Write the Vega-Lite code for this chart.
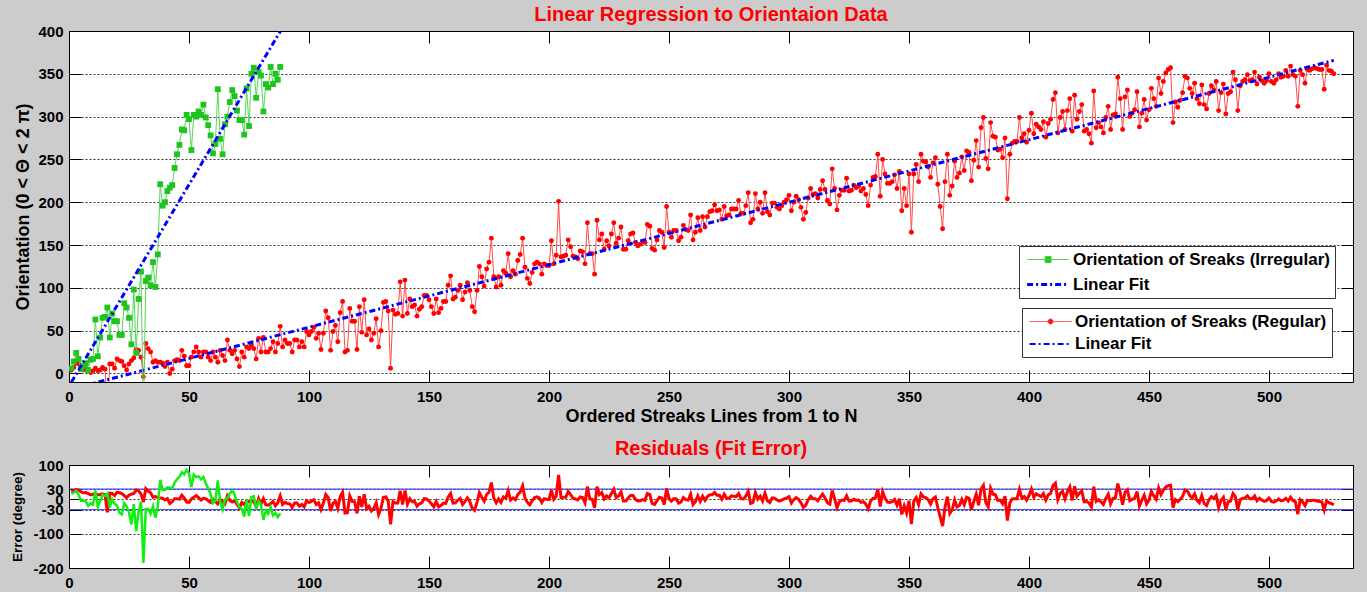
{
"$schema":"https://vega.github.io/schema/vega-lite/v6.json",
"background":"#cccccc",
"autosize":"none",
"padding":{"left":69,"top":31,"right":1298,"bottom":561},
"bounds":"flush",
"spacing":83,
"config":{
"font":"Liberation Sans",
"view":{"fill":"white","stroke":null},
"axis":{"labelFont":"Liberation Sans","labelFontSize":15,"labelFontWeight":"bold","labelColor":"#000","titleFont":"Liberation Sans","titleFontSize":18,"titleFontWeight":"bold","titleColor":"#000","domainColor":"#000","domainWidth":1,"tickColor":"#000","tickWidth":1,"tickSize":-12,"labelFlush":false,"labelOverlap":false,"gridColor":"#333","gridDash":[2,2],"gridWidth":1,"gridOpacity":1},
"title":{"font":"Liberation Sans","fontSize":20,"fontWeight":"bold","color":"#ff0000","anchor":"middle","baseline":"alphabetic","offset":-1}
},
"datasets":{
"lim":[{"e":30},{"e":-30}],
"rfit":[{"i":1,"v":-18.27},{"i":527,"v":365.71}],
"gfit":[{"i":1,"v":-10.29},{"i":88,"v":399.48}],
"green":[{"i":1,"v":6,"e":16},{"i":2,"v":14,"e":20},{"i":3,"v":24,"e":25},{"i":4,"v":17,"e":13},{"i":5,"v":5,"e":-4},{"i":6,"v":9,"e":-4},{"i":7,"v":12,"e":-6},{"i":8,"v":4,"e":-19},{"i":9,"v":16,"e":-11},{"i":10,"v":17,"e":-15},{"i":11,"v":63,"e":26},{"i":12,"v":20,"e":-22},{"i":13,"v":42,"e":-4},{"i":14,"v":65,"e":14},{"i":15,"v":66,"e":10},{"i":16,"v":77,"e":17},{"i":17,"v":42,"e":-23},{"i":18,"v":70,"e":0},{"i":19,"v":61,"e":-13},{"i":20,"v":61,"e":-18},{"i":21,"v":45,"e":-39},{"i":22,"v":45,"e":-44},{"i":23,"v":82,"e":-11},{"i":24,"v":77,"e":-21},{"i":25,"v":65,"e":-38},{"i":26,"v":34,"e":-73},{"i":27,"v":98,"e":-14},{"i":28,"v":24,"e":-93},{"i":29,"v":87,"e":-35},{"i":30,"v":119,"e":-7},{"i":31,"v":-54,"e":-185},{"i":32,"v":108,"e":-28},{"i":33,"v":112,"e":-28},{"i":34,"v":103,"e":-42},{"i":35,"v":130,"e":-20},{"i":36,"v":101,"e":-54},{"i":37,"v":139,"e":-20},{"i":38,"v":221,"e":57},{"i":39,"v":196,"e":27},{"i":40,"v":200,"e":27},{"i":41,"v":213,"e":35},{"i":42,"v":217,"e":34},{"i":43,"v":220,"e":32},{"i":44,"v":240,"e":48},{"i":45,"v":256,"e":59},{"i":46,"v":267,"e":65},{"i":47,"v":285,"e":79},{"i":48,"v":284,"e":73},{"i":49,"v":302,"e":86},{"i":50,"v":297,"e":76},{"i":51,"v":261,"e":36},{"i":52,"v":302,"e":72},{"i":53,"v":300,"e":65},{"i":54,"v":306,"e":67},{"i":55,"v":302,"e":58},{"i":56,"v":314,"e":65},{"i":57,"v":299,"e":46},{"i":58,"v":290,"e":32},{"i":59,"v":278,"e":15},{"i":60,"v":257,"e":-11},{"i":61,"v":268,"e":-4},{"i":62,"v":332,"e":55},{"i":63,"v":274,"e":-8},{"i":64,"v":256,"e":-30},{"i":65,"v":291,"e":0},{"i":66,"v":300,"e":4},{"i":67,"v":317,"e":16},{"i":68,"v":331,"e":26},{"i":69,"v":324,"e":14},{"i":70,"v":307,"e":-8},{"i":71,"v":296,"e":-23},{"i":72,"v":296,"e":-28},{"i":73,"v":279,"e":-50},{"i":74,"v":333,"e":0},{"i":75,"v":289,"e":-49},{"i":76,"v":350,"e":7},{"i":77,"v":357,"e":9},{"i":78,"v":322,"e":-30},{"i":79,"v":352,"e":-5},{"i":80,"v":348,"e":-14},{"i":81,"v":306,"e":-60},{"i":82,"v":338,"e":-33},{"i":83,"v":334,"e":-42},{"i":84,"v":358,"e":-23},{"i":85,"v":338,"e":-47},{"i":86,"v":350,"e":-40},{"i":87,"v":343,"e":-52},{"i":88,"v":358,"e":-41}],
"red":[{"i":1,"v":4,"e":22},{"i":2,"v":7,"e":25},{"i":3,"v":12,"e":29},{"i":4,"v":11,"e":27},{"i":5,"v":7,"e":22},{"i":6,"v":4,"e":19},{"i":7,"v":6,"e":20},{"i":8,"v":4,"e":17},{"i":9,"v":1,"e":13},{"i":10,"v":3,"e":15},
{"i":11,"v":6,"e":17},{"i":12,"v":3,"e":13},{"i":13,"v":4,"e":14},{"i":14,"v":7,"e":16},{"i":15,"v":5,"e":13},{"i":16,"v":-45,"e":-38},{"i":17,"v":11,"e":18},{"i":18,"v":11,"e":17},{"i":19,"v":6,"e":11},{"i":20,"v":17,"e":21},
{"i":21,"v":15,"e":19},{"i":22,"v":14,"e":17},{"i":23,"v":9,"e":11},{"i":24,"v":4,"e":5},{"i":25,"v":11,"e":12},{"i":26,"v":15,"e":15},{"i":27,"v":18,"e":17},{"i":28,"v":28,"e":27},{"i":29,"v":27,"e":25},{"i":30,"v":19,"e":16},
{"i":31,"v":-4,"e":-8},{"i":32,"v":35,"e":31},{"i":33,"v":29,"e":24},{"i":34,"v":25,"e":19},{"i":35,"v":13,"e":6},{"i":36,"v":15,"e":8},{"i":37,"v":13,"e":5},{"i":38,"v":13,"e":4},{"i":39,"v":12,"e":3},{"i":40,"v":8,"e":-2},
{"i":41,"v":13,"e":2},{"i":42,"v":0,"e":-12},{"i":43,"v":5,"e":-7},{"i":44,"v":15,"e":2},{"i":45,"v":16,"e":2},{"i":46,"v":15,"e":0},{"i":47,"v":27,"e":12},{"i":48,"v":20,"e":4},{"i":49,"v":9,"e":-8},{"i":50,"v":9,"e":-9},
{"i":51,"v":19,"e":1},{"i":52,"v":25,"e":6},{"i":53,"v":31,"e":11},{"i":54,"v":25,"e":5},{"i":55,"v":19,"e":-2},{"i":56,"v":25,"e":3},{"i":57,"v":25,"e":2},{"i":58,"v":19,"e":-4},{"i":59,"v":15,"e":-9},{"i":60,"v":25,"e":0},
{"i":61,"v":19,"e":-7},{"i":62,"v":13,"e":-13},{"i":63,"v":27,"e":0},{"i":64,"v":21,"e":-7},{"i":65,"v":15,"e":-13},{"i":66,"v":39,"e":10},{"i":67,"v":27,"e":-3},{"i":68,"v":23,"e":-8},{"i":69,"v":27,"e":-4},{"i":70,"v":17,"e":-15},
{"i":71,"v":8,"e":-25},{"i":72,"v":25,"e":-9},{"i":73,"v":19,"e":-15},{"i":74,"v":31,"e":-4},{"i":75,"v":29,"e":-7},{"i":76,"v":33,"e":-3},{"i":77,"v":29,"e":-8},{"i":78,"v":17,"e":-21},{"i":79,"v":41,"e":2},{"i":80,"v":25,"e":-14},
{"i":81,"v":42,"e":2},{"i":82,"v":25,"e":-16},{"i":83,"v":25,"e":-17},{"i":84,"v":29,"e":-13},{"i":85,"v":37,"e":-6},{"i":86,"v":25,"e":-19},{"i":87,"v":35,"e":-10},{"i":88,"v":55,"e":10},{"i":89,"v":31,"e":-15},{"i":90,"v":39,"e":-8},
{"i":91,"v":35,"e":-12},{"i":92,"v":35,"e":-13},{"i":93,"v":25,"e":-24},{"i":94,"v":39,"e":-11},{"i":95,"v":39,"e":-11},{"i":96,"v":31,"e":-20},{"i":97,"v":37,"e":-15},{"i":98,"v":31,"e":-22},{"i":99,"v":49,"e":-4},{"i":100,"v":45,"e":-9},
{"i":101,"v":49,"e":-6},{"i":102,"v":54,"e":-1},{"i":103,"v":41,"e":-15},{"i":104,"v":47,"e":-10},{"i":105,"v":28,"e":-30},{"i":106,"v":47,"e":-11},{"i":107,"v":73,"e":14},{"i":108,"v":65,"e":5},{"i":109,"v":27,"e":-34},{"i":110,"v":49,"e":-12},
{"i":111,"v":56,"e":-6},{"i":112,"v":37,"e":-26},{"i":113,"v":71,"e":8},{"i":114,"v":84,"e":20},{"i":115,"v":25,"e":-40},{"i":116,"v":27,"e":-39},{"i":117,"v":76,"e":10},{"i":118,"v":61,"e":-6},{"i":119,"v":61,"e":-7},{"i":120,"v":28,"e":-41},
{"i":121,"v":78,"e":9},{"i":122,"v":48,"e":-22},{"i":123,"v":86,"e":15},{"i":124,"v":45,"e":-27},{"i":125,"v":52,"e":-20},{"i":126,"v":39,"e":-34},{"i":127,"v":47,"e":-27},{"i":128,"v":64,"e":-10},{"i":129,"v":31,"e":-44},{"i":130,"v":50,"e":-26},
{"i":131,"v":83,"e":6},{"i":132,"v":84,"e":7},{"i":133,"v":73,"e":-5},{"i":134,"v":6,"e":-73},{"i":135,"v":74,"e":-6},{"i":136,"v":69,"e":-11},{"i":137,"v":70,"e":-11},{"i":138,"v":107,"e":25},{"i":139,"v":67,"e":-15},{"i":140,"v":109,"e":26},
{"i":141,"v":70,"e":-14},{"i":142,"v":87,"e":2},{"i":143,"v":78,"e":-7},{"i":144,"v":80,"e":-6},{"i":145,"v":67,"e":-20},{"i":146,"v":75,"e":-13},{"i":147,"v":78,"e":-10},{"i":148,"v":91,"e":2},{"i":149,"v":91,"e":1},{"i":150,"v":86,"e":-5},
{"i":151,"v":78,"e":-13},{"i":152,"v":70,"e":-22},{"i":153,"v":87,"e":-6},{"i":154,"v":71,"e":-22},{"i":155,"v":76,"e":-18},{"i":156,"v":84,"e":-11},{"i":157,"v":84,"e":-12},{"i":158,"v":103,"e":7},{"i":159,"v":114,"e":17},{"i":160,"v":87,"e":-11},
{"i":161,"v":89,"e":-10},{"i":162,"v":97,"e":-2},{"i":163,"v":103,"e":3},{"i":164,"v":86,"e":-15},{"i":165,"v":95,"e":-6},{"i":166,"v":106,"e":4},{"i":167,"v":97,"e":-6},{"i":168,"v":78,"e":-26},{"i":169,"v":72,"e":-32},{"i":170,"v":97,"e":-8},
{"i":171,"v":125,"e":19},{"i":172,"v":113,"e":6},{"i":173,"v":102,"e":-5},{"i":174,"v":122,"e":14},{"i":175,"v":130,"e":21},{"i":176,"v":158,"e":49},{"i":177,"v":113,"e":3},{"i":178,"v":101,"e":-10},{"i":179,"v":113,"e":1},{"i":180,"v":103,"e":-9},
{"i":181,"v":120,"e":7},{"i":182,"v":117,"e":3},{"i":183,"v":140,"e":25},{"i":184,"v":113,"e":-2},{"i":185,"v":120,"e":4},{"i":186,"v":116,"e":-1},{"i":187,"v":132,"e":14},{"i":188,"v":139,"e":21},{"i":189,"v":158,"e":39},{"i":190,"v":124,"e":4},
{"i":191,"v":111,"e":-9},{"i":192,"v":105,"e":-16},{"i":193,"v":118,"e":-4},{"i":194,"v":128,"e":5},{"i":195,"v":130,"e":7},{"i":196,"v":128,"e":4},{"i":197,"v":116,"e":-9},{"i":198,"v":128,"e":2},{"i":199,"v":126,"e":0},{"i":200,"v":126,"e":-1},
{"i":201,"v":155,"e":27},{"i":202,"v":128,"e":0},{"i":203,"v":138,"e":9},{"i":204,"v":201,"e":71},{"i":205,"v":136,"e":5},{"i":206,"v":137,"e":6},{"i":207,"v":138,"e":6},{"i":208,"v":156,"e":23},{"i":209,"v":148,"e":14},{"i":210,"v":137,"e":3},
{"i":211,"v":136,"e":1},{"i":212,"v":134,"e":-2},{"i":213,"v":143,"e":7},{"i":214,"v":142,"e":5},{"i":215,"v":128,"e":-10},{"i":216,"v":176,"e":37},{"i":217,"v":140,"e":1},{"i":218,"v":140,"e":0},{"i":219,"v":116,"e":-25},{"i":220,"v":179,"e":37},
{"i":221,"v":156,"e":14},{"i":222,"v":163,"e":20},{"i":223,"v":145,"e":1},{"i":224,"v":155,"e":10},{"i":225,"v":149,"e":4},{"i":226,"v":163,"e":17},{"i":227,"v":176,"e":29},{"i":228,"v":152,"e":5},{"i":229,"v":158,"e":10},{"i":230,"v":171,"e":22},
{"i":231,"v":145,"e":-5},{"i":232,"v":145,"e":-5},{"i":233,"v":155,"e":4},{"i":234,"v":163,"e":11},{"i":235,"v":164,"e":11},{"i":236,"v":153,"e":0},{"i":237,"v":149,"e":-5},{"i":238,"v":151,"e":-4},{"i":239,"v":154,"e":-1},{"i":240,"v":153,"e":-3},
{"i":241,"v":174,"e":17},{"i":242,"v":172,"e":14},{"i":243,"v":146,"e":-12},{"i":244,"v":144,"e":-15},{"i":245,"v":156,"e":-4},{"i":246,"v":167,"e":6},{"i":247,"v":165,"e":4},{"i":248,"v":147,"e":-15},{"i":249,"v":195,"e":32},{"i":250,"v":165,"e":2},
{"i":251,"v":159,"e":-5},{"i":252,"v":167,"e":2},{"i":253,"v":167,"e":1},{"i":254,"v":155,"e":-11},{"i":255,"v":159,"e":-8},{"i":256,"v":173,"e":5},{"i":257,"v":168,"e":-1},{"i":258,"v":167,"e":-2},{"i":259,"v":185,"e":15},{"i":260,"v":156,"e":-15},
{"i":261,"v":165,"e":-7},{"i":262,"v":182,"e":10},{"i":263,"v":167,"e":-6},{"i":264,"v":183,"e":9},{"i":265,"v":171,"e":-3},{"i":266,"v":183,"e":8},{"i":267,"v":189,"e":13},{"i":268,"v":190,"e":13},{"i":269,"v":197,"e":20},{"i":270,"v":190,"e":12},
{"i":271,"v":191,"e":12},{"i":272,"v":180,"e":0},{"i":273,"v":195,"e":15},{"i":274,"v":184,"e":3},{"i":275,"v":185,"e":3},{"i":276,"v":192,"e":10},{"i":277,"v":192,"e":9},{"i":278,"v":192,"e":8},{"i":279,"v":202,"e":17},{"i":280,"v":187,"e":2},
{"i":281,"v":187,"e":1},{"i":282,"v":196,"e":9},{"i":283,"v":211,"e":23},{"i":284,"v":176,"e":-12},{"i":285,"v":180,"e":-9},{"i":286,"v":210,"e":20},{"i":287,"v":192,"e":1},{"i":288,"v":200,"e":9},{"i":289,"v":187,"e":-5},{"i":290,"v":211,"e":18},
{"i":291,"v":189,"e":-4},{"i":292,"v":185,"e":-9},{"i":293,"v":199,"e":4},{"i":294,"v":199,"e":3},{"i":295,"v":194,"e":-2},{"i":296,"v":192,"e":-5},{"i":297,"v":196,"e":-2},{"i":298,"v":200,"e":1},{"i":299,"v":203,"e":4},{"i":300,"v":208,"e":8},
{"i":301,"v":190,"e":-11},{"i":302,"v":200,"e":-1},{"i":303,"v":207,"e":5},{"i":304,"v":203,"e":0},{"i":305,"v":194,"e":-10},{"i":306,"v":180,"e":-24},{"i":307,"v":188,"e":-17},{"i":308,"v":205,"e":-1},{"i":309,"v":216,"e":9},{"i":310,"v":209,"e":2},
{"i":311,"v":210,"e":2},{"i":312,"v":205,"e":-4},{"i":313,"v":215,"e":6},{"i":314,"v":225,"e":15},{"i":315,"v":215,"e":4},{"i":316,"v":202,"e":-10},{"i":317,"v":198,"e":-14},{"i":318,"v":239,"e":26},{"i":319,"v":216,"e":2},{"i":320,"v":191,"e":-24},
{"i":321,"v":208,"e":-7},{"i":322,"v":214,"e":-2},{"i":323,"v":214,"e":-3},{"i":324,"v":228,"e":10},{"i":325,"v":213,"e":-5},{"i":326,"v":214,"e":-5},{"i":327,"v":220,"e":0},{"i":328,"v":217,"e":-3},{"i":329,"v":219,"e":-2},{"i":330,"v":213,"e":-9},
{"i":331,"v":216,"e":-7},{"i":332,"v":209,"e":-14},{"i":333,"v":196,"e":-28},{"i":334,"v":220,"e":-5},{"i":335,"v":229,"e":3},{"i":336,"v":230,"e":4},{"i":337,"v":256,"e":29},{"i":338,"v":207,"e":-21},{"i":339,"v":250,"e":22},{"i":340,"v":233,"e":4},
{"i":341,"v":222,"e":-8},{"i":342,"v":222,"e":-9},{"i":343,"v":224,"e":-7},{"i":344,"v":232,"e":0},{"i":345,"v":216,"e":-17},{"i":346,"v":236,"e":2},{"i":347,"v":190,"e":-44},{"i":348,"v":216,"e":-19},{"i":349,"v":196,"e":-40},{"i":350,"v":233,"e":-4},
{"i":351,"v":165,"e":-72},{"i":352,"v":233,"e":-5},{"i":353,"v":244,"e":5},{"i":354,"v":224,"e":-15},{"i":355,"v":256,"e":16},{"i":356,"v":248,"e":7},{"i":357,"v":247,"e":5},{"i":358,"v":241,"e":-1},{"i":359,"v":229,"e":-14},{"i":360,"v":246,"e":2},
{"i":361,"v":252,"e":7},{"i":362,"v":221,"e":-24},{"i":363,"v":195,"e":-51},{"i":364,"v":169,"e":-78},{"i":365,"v":224,"e":-23},{"i":366,"v":256,"e":8},{"i":367,"v":208,"e":-41},{"i":368,"v":219,"e":-31},{"i":369,"v":248,"e":-2},{"i":370,"v":229,"e":-22},
{"i":371,"v":234,"e":-18},{"i":372,"v":253,"e":0},{"i":373,"v":237,"e":-16},{"i":374,"v":260,"e":6},{"i":375,"v":258,"e":3},{"i":376,"v":225,"e":-30},{"i":377,"v":249,"e":-7},{"i":378,"v":272,"e":15},{"i":379,"v":241,"e":-17},{"i":380,"v":287,"e":29},
{"i":381,"v":299,"e":40},{"i":382,"v":251,"e":-9},{"i":383,"v":239,"e":-22},{"i":384,"v":293,"e":32},{"i":385,"v":277,"e":15},{"i":386,"v":276,"e":13},{"i":387,"v":261,"e":-3},{"i":388,"v":262,"e":-2},{"i":389,"v":252,"e":-13},{"i":390,"v":275,"e":9},
{"i":391,"v":204,"e":-62},{"i":392,"v":256,"e":-11},{"i":393,"v":269,"e":1},{"i":394,"v":271,"e":2},{"i":395,"v":271,"e":2},{"i":396,"v":299,"e":29},{"i":397,"v":275,"e":4},{"i":398,"v":280,"e":8},{"i":399,"v":270,"e":-2},{"i":400,"v":284,"e":11},
{"i":401,"v":304,"e":30},{"i":402,"v":280,"e":6},{"i":403,"v":291,"e":16},{"i":404,"v":288,"e":12},{"i":405,"v":285,"e":8},{"i":406,"v":294,"e":17},{"i":407,"v":276,"e":-2},{"i":408,"v":292,"e":13},{"i":409,"v":297,"e":17},{"i":410,"v":320,"e":40},
{"i":411,"v":328,"e":47},{"i":412,"v":281,"e":-1},{"i":413,"v":299,"e":17},{"i":414,"v":306,"e":23},{"i":415,"v":285,"e":1},{"i":416,"v":307,"e":22},{"i":417,"v":321,"e":36},{"i":418,"v":283,"e":-3},{"i":419,"v":325,"e":38},{"i":420,"v":297,"e":9},
{"i":421,"v":306,"e":18},{"i":422,"v":314,"e":25},{"i":423,"v":283,"e":-7},{"i":424,"v":285,"e":-6},{"i":425,"v":280,"e":-11},{"i":426,"v":269,"e":-23},{"i":427,"v":330,"e":37},{"i":428,"v":287,"e":-6},{"i":429,"v":293,"e":-1},{"i":430,"v":288,"e":-7},
{"i":431,"v":281,"e":-15},{"i":432,"v":299,"e":3},{"i":433,"v":312,"e":15},{"i":434,"v":285,"e":-13},{"i":435,"v":302,"e":3},{"i":436,"v":303,"e":4},{"i":437,"v":346,"e":46},{"i":438,"v":321,"e":20},{"i":439,"v":285,"e":-16},{"i":440,"v":323,"e":21},
{"i":441,"v":331,"e":28},{"i":442,"v":300,"e":-4},{"i":443,"v":304,"e":0},{"i":444,"v":308,"e":3},{"i":445,"v":329,"e":23},{"i":446,"v":288,"e":-19},{"i":447,"v":304,"e":-3},{"i":448,"v":320,"e":12},{"i":449,"v":296,"e":-13},{"i":450,"v":308,"e":-2},
{"i":451,"v":333,"e":23},{"i":452,"v":321,"e":10},{"i":453,"v":312,"e":0},{"i":454,"v":345,"e":33},{"i":455,"v":327,"e":14},{"i":456,"v":341,"e":27},{"i":457,"v":351,"e":36},{"i":458,"v":355,"e":40},{"i":459,"v":357,"e":41},{"i":460,"v":293,"e":-24},
{"i":461,"v":317,"e":-1},{"i":462,"v":311,"e":-7},{"i":463,"v":319,"e":0},{"i":464,"v":328,"e":8},{"i":465,"v":347,"e":27},{"i":466,"v":345,"e":24},{"i":467,"v":333,"e":11},{"i":468,"v":327,"e":4},{"i":469,"v":339,"e":16},{"i":470,"v":321,"e":-3},
{"i":471,"v":315,"e":-10},{"i":472,"v":337,"e":11},{"i":473,"v":314,"e":-12},{"i":474,"v":309,"e":-18},{"i":475,"v":327,"e":-1},{"i":476,"v":336,"e":8},{"i":477,"v":331,"e":2},{"i":478,"v":341,"e":11},{"i":479,"v":307,"e":-24},{"i":480,"v":328,"e":-3},
{"i":481,"v":338,"e":6},{"i":482,"v":303,"e":-30},{"i":483,"v":327,"e":-7},{"i":484,"v":329,"e":-5},{"i":485,"v":352,"e":17},{"i":486,"v":343,"e":7},{"i":487,"v":307,"e":-30},{"i":488,"v":336,"e":-1},{"i":489,"v":341,"e":3},{"i":490,"v":343,"e":4},
{"i":491,"v":349,"e":10},{"i":492,"v":342,"e":2},{"i":493,"v":343,"e":2},{"i":494,"v":352,"e":10},{"i":495,"v":338,"e":-4},{"i":496,"v":346,"e":3},{"i":497,"v":342,"e":-2},{"i":498,"v":339,"e":-6},{"i":499,"v":342,"e":-3},{"i":500,"v":350,"e":4},
{"i":501,"v":341,"e":-6},{"i":502,"v":339,"e":-8},{"i":503,"v":343,"e":-5},{"i":504,"v":350,"e":1},{"i":505,"v":346,"e":-4},{"i":506,"v":347,"e":-3},{"i":507,"v":354,"e":3},{"i":508,"v":347,"e":-5},{"i":509,"v":359,"e":6},{"i":510,"v":349,"e":-4},
{"i":511,"v":347,"e":-7},{"i":512,"v":312,"e":-43},{"i":513,"v":354,"e":-1},{"i":514,"v":349,"e":-7},{"i":515,"v":339,"e":-18},{"i":516,"v":355,"e":-3},{"i":517,"v":354,"e":-4},{"i":518,"v":356,"e":-3},{"i":519,"v":357,"e":-3},{"i":520,"v":356,"e":-5},
{"i":521,"v":355,"e":-6},{"i":522,"v":355,"e":-7},{"i":523,"v":332,"e":-31},{"i":524,"v":360,"e":-4},{"i":525,"v":354,"e":-10},{"i":526,"v":353,"e":-12},{"i":527,"v":350,"e":-16}]
},
"vconcat":[
{
"width":1284,"height":351,
"title":{"text":"Linear Regression to Orientaion Data"},
"layer":[
{
"encoding":{
"x":{"field":"i","type":"quantitative","scale":{"domain":[0,535],"nice":false,"zero":false},"axis":{"orient":"top","values":[0,50,100,150,200,250,300,350,400,450,500],"labels":false,"title":null,"grid":false}},
"y":{"field":"v","type":"quantitative","scale":{"domain":[-10,400],"nice":false,"zero":false},"axis":{"orient":"right","values":[0,50,100,150,200,250,300,350,400],"labels":false,"title":null,"grid":false}}
},
"layer":[
{"data":{"name":"red"},"mark":{"type":"line","color":"#ff4a4a","strokeWidth":1,"clip":true}},
{"data":{"name":"red"},"mark":{"type":"point","filled":true,"shape":"circle","size":24,"opacity":1,"color":"#ff0000","clip":true}},
{"data":{"name":"rfit"},"mark":{"type":"line","color":"#0000ff","strokeWidth":3,"strokeDash":[6,3,2,3],"clip":true}},
{"data":{"name":"rfit"},"mark":{"type":"point","filled":true,"opacity":0,"clip":true},
"encoding":{
"color":{"datum":"Linear Fit","type":"nominal","scale":{"domain":["Orientation of Sreaks (Regular)","Linear Fit"],"range":["#ff0000","#0000ff"]},
"legend":{"orient":"none","legendX":953,"legendY":277,"title":null,"fillColor":"white","strokeColor":"#333","padding":5,"rowPadding":5,"symbolSize":256,"symbolOpacity":1,"labelOffset":30,"labelFont":"Liberation Sans","labelFontSize":17,"labelFontWeight":"bold","labelColor":"#000","labelLimit":500}},
"stroke":{"datum":"Linear Fit","type":"nominal","scale":{"domain":["Orientation of Sreaks (Regular)","Linear Fit"],"range":["#ff3a3a","#0000ff"]}},
"shape":{"datum":"Linear Fit","type":"nominal","scale":{"domain":["Orientation of Sreaks (Regular)","Linear Fit"],"range":["M-0.8,0H4.45M1.5125,0A0.3125,0.3125,0,1,0,2.1375,0A0.3125,0.3125,0,1,0,1.5125,0Z","M-0.8,0H4.45"]}},
"strokeDash":{"datum":"Linear Fit","type":"nominal","scale":{"domain":["Orientation of Sreaks (Regular)","Linear Fit"],"range":[[1,0],[6,3,2,3]]}},
"strokeWidth":{"datum":"Linear Fit","type":"nominal","scale":{"domain":["Orientation of Sreaks (Regular)","Linear Fit"],"range":[1,2]}}
}}
]
},
{
"encoding":{
"x":{"field":"i","type":"quantitative","scale":{"domain":[0,535],"nice":false,"zero":false},"axis":{"orient":"bottom","values":[0,50,100,150,200,250,300,350,400,450,500],"title":"Ordered Streaks Lines from 1 to N","labelPadding":19,"titlePadding":3,"grid":false}},
"y":{"field":"v","type":"quantitative","scale":{"domain":[-10,400],"nice":false,"zero":false},"axis":{"orient":"left","values":[0,50,100,150,200,250,300,350,400],"title":"Orientation (0 < Θ < 2 π)","labelPadding":18,"titlePadding":5,"grid":true}}
},
"layer":[
{"data":{"name":"green"},"mark":{"type":"line","color":"#55d855","strokeWidth":1,"clip":true}},
{"data":{"name":"green"},"mark":{"type":"point","filled":true,"shape":"square","size":34,"opacity":1,"color":"#1fc41f","clip":true}},
{"data":{"name":"gfit"},"mark":{"type":"line","color":"#0000ff","strokeWidth":3,"strokeDash":[6,3,2,3],"clip":true}},
{"data":{"name":"gfit"},"mark":{"type":"point","filled":true,"opacity":0,"clip":true},
"encoding":{
"color":{"datum":"Linear Fit","type":"nominal","scale":{"domain":["Orientation of Sreaks (Irregular)","Linear Fit"],"range":["#1fc41f","#0000ff"]},
"legend":{"orient":"none","legendX":950,"legendY":215,"title":null,"fillColor":"white","strokeColor":"#333","padding":5,"rowPadding":7,"symbolSize":256,"symbolOpacity":1,"labelOffset":30,"labelFont":"Liberation Sans","labelFontSize":17,"labelFontWeight":"bold","labelColor":"#000","labelLimit":500}},
"stroke":{"datum":"Linear Fit","type":"nominal","scale":{"domain":["Orientation of Sreaks (Irregular)","Linear Fit"],"range":["#44d444","#0000ff"]}},
"shape":{"datum":"Linear Fit","type":"nominal","scale":{"domain":["Orientation of Sreaks (Irregular)","Linear Fit"],"range":["M-0.8,0H4.45M1.45,-0.375H2.2V0.375H1.45Z","M-0.8,0H4.45"]}},
"strokeDash":{"datum":"Linear Fit","type":"nominal","scale":{"domain":["Orientation of Sreaks (Irregular)","Linear Fit"],"range":[[1,0],[6,3,2,3]]}},
"strokeWidth":{"datum":"Linear Fit","type":"nominal","scale":{"domain":["Orientation of Sreaks (Irregular)","Linear Fit"],"range":[1,3]}}
}}
]
}
],
"resolve":{"scale":{"color":"independent","stroke":"independent","shape":"independent","strokeDash":"independent","strokeWidth":"independent"},"axis":{"x":"independent","y":"independent"},"legend":{"color":"independent","stroke":"independent","shape":"independent","strokeDash":"independent","strokeWidth":"independent"}}
},
{
"width":1284,"height":103,
"title":{"text":"Residuals (Fit Error)"},
"layer":[
{
"encoding":{
"y":{"field":"e","type":"quantitative","scale":{"domain":[-200,100],"nice":false,"zero":false},"axis":{"orient":"left","values":[-200,-100,-30,0,30,100],"title":"Error (degree)","titleFontSize":13.5,"labelPadding":18,"titlePadding":8,"grid":true,"labelExpr":"replace(datum.label, '\u2212', '-')"}}
},
"layer":[
{"data":{"name":"lim"},"mark":{"type":"rule","color":"#3030ff","strokeWidth":1}},
{"data":{"name":"red"},"mark":{"type":"line","color":"#ff0000","strokeWidth":3,"clip":true},
"encoding":{"x":{"field":"i","type":"quantitative","scale":{"domain":[0,535],"nice":false,"zero":false},"axis":{"orient":"bottom","values":[0,50,100,150,200,250,300,350,400,450,500],"title":null,"labelPadding":19,"grid":false}}}},
{"data":{"name":"green"},"mark":{"type":"line","color":"#11ee11","strokeWidth":2.5,"clip":true},
"encoding":{"x":{"field":"i","type":"quantitative","scale":{"domain":[0,535],"nice":false,"zero":false},"axis":{"orient":"bottom","values":[0,50,100,150,200,250,300,350,400,450,500],"title":null,"labelPadding":19,"grid":false}}}}
]
},
{
"data":{"name":"red"},
"mark":{"type":"line","opacity":0},
"encoding":{
"x":{"field":"i","type":"quantitative","scale":{"domain":[0,535],"nice":false,"zero":false},"axis":{"orient":"top","values":[0,50,100,150,200,250,300,350,400,450,500],"labels":false,"title":null,"grid":false}},
"y":{"field":"e","type":"quantitative","scale":{"domain":[-200,100],"nice":false,"zero":false},"axis":{"orient":"right","values":[-200,-100,-30,0,30,100],"labels":false,"title":null,"grid":false}}
}
}
],
"resolve":{"axis":{"x":"independent","y":"independent"}}
}
]
}
